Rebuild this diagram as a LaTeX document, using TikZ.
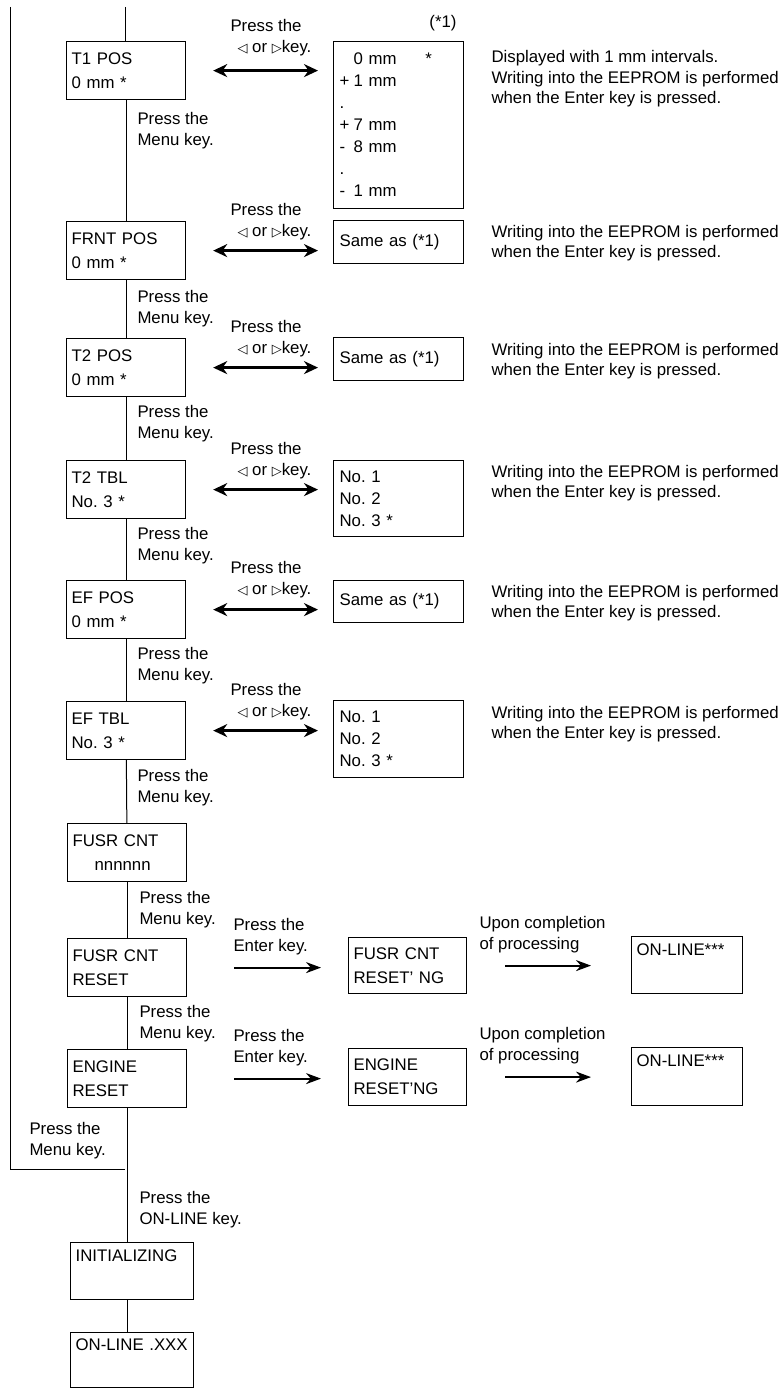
\documentclass[tikz,border=0pt]{standalone}
\usepackage{fontspec}
\setmainfont{Liberation Sans}
\newfontfamily\symfont{DejaVu Sans}
\usepackage{tikz}
\usetikzlibrary{arrows.meta,positioning}
\tikzset{
	defaultstyle/.style={
		x=1pt, y=-1pt,
		line width=1pt,
		font=\fontsize{16.8}{21}\selectfont}}
\newcommand{\lkey}{{\symfont\fontsize{13}{13}\selectfont ◁}}
\newcommand{\rkey}{{\symfont\fontsize{13}{13}\selectfont ▷}}
\newcommand{\sgn}[1]{\makebox[14pt][l]{#1}}
\frenchspacing

\begin{document}
\begin{tikzpicture}[defaultstyle,
	every text node part/.style={align=left},
	menubox/.style={draw, line width=1.2pt, anchor=north west, text width=109pt, inner xsep=5pt, minimum height=58pt, font=\fontsize{16.8}{24}\selectfont},
	valbox/.style={draw, line width=1.2pt, anchor=north west, text width=118pt, inner xsep=6pt, font=\fontsize{16.8}{22}\selectfont},
	lbl/.style={anchor=west, inner sep=0pt},
	note/.style={anchor=west, inner sep=0pt, font=\fontsize{16.8}{20.5}\selectfont},
	both/.style={{Stealth[length=14pt,width=13pt]}-{Stealth[length=14pt,width=13pt]}, line width=2.8pt},
	go/.style={-{Stealth[length=15pt,width=11pt]}, line width=2pt},
	]
	\useasboundingbox (0,0) rectangle (780,1389);

	\coordinate (looptop) at (10,7);
	\coordinate (mtop) at (125,7);
	\coordinate (loopend) at (125,1169);

	\node[menubox] (t1pos) at (66,41) {T1 POS\\0 mm *};
	\node[menubox] (frntpos) at (66,221) {FRNT POS\\0 mm *};
	\node[menubox] (t2pos) at (66,338) {T2 POS\\0 mm *};
	\node[menubox] (t2tbl) at (66,460) {T2 TBL\\No. 3 *};
	\node[menubox] (efpos) at (66,580) {EF POS\\0 mm *};
	\node[menubox] (eftbl) at (66,701) {EF TBL\\No. 3 *};
	\node[menubox] (fusrcnt) at (67,823) {FUSR CNT\\\hspace{22pt}nnnnnn};
	\node[menubox] (fusrrst) at (67,938) {FUSR CNT\\RESET};
	\node[menubox] (engrst) at (67,1049) {ENGINE\\RESET};
	\node[menubox, text width=113pt, minimum height=57pt] (init) at (70,1242) {INITIALIZING\\\strut};
	\node[menubox, text width=113pt, minimum height=55pt] (online) at (70,1332) {ON-LINE .XXX\\\strut};

	\node[valbox, minimum height=167pt] (v1) at (333,41) {\sgn{}0 mm\quad\hspace{12pt}*\\\sgn{+}1 mm\\.\\\sgn{+}7 mm\\\sgn{-}8 mm\\.\\\sgn{-}1 mm};
	\node[valbox, minimum height=43pt] (v2) at (333,220) {Same as (*1)};
	\node[valbox, minimum height=43pt] (v3) at (333,337) {Same as (*1)};
	\node[valbox, minimum height=76pt] (v4) at (333,460) {No. 1\\No. 2\\No. 3 *};
	\node[valbox, minimum height=42pt] (v5) at (333,580) {Same as (*1)};
	\node[valbox, minimum height=77pt] (v6) at (333,700) {No. 1\\No. 2\\No. 3 *};
	\node at (443,23) (ref1) {(*1)};

	\node[menubox, text width=108pt, minimum height=56pt] (fusrrng) at (348,937) {FUSR CNT\\RESET’ NG};
	\node[menubox, text width=108pt, minimum height=57pt] (engrng) at (348,1048) {ENGINE\\RESET’NG};
	\node[menubox, text width=101pt, minimum height=57pt] (on1) at (631,936) {ON-LINE***\\\strut};
	\node[menubox, text width=101pt, minimum height=58pt] (on2) at (631,1047) {ON-LINE***\\\strut};

	\draw (mtop) -- (mtop |- t1pos.north);
	\draw (t1pos) -- (frntpos);
	\draw (frntpos) -- (t2pos);
	\draw (t2pos) -- (t2tbl);
	\draw (t2tbl) -- (efpos);
	\draw (efpos) -- (eftbl);
	\draw (eftbl) -- (fusrcnt);
	\draw (fusrcnt) -- (fusrrst);
	\draw (fusrrst) -- (engrst);
	\draw (engrst.south) -- (engrst.south |- init.north);
	\draw (init.south -| engrst.south) -- (online.north -| engrst.south);
	\draw (looptop) |- (loopend);

	\node[lbl] (m1) at (137,131) {Press the\\Menu key.};
	\node[lbl] (m2) at (137,309) {Press the\\Menu key.};
	\node[lbl] (m3) at (137,424) {Press the\\Menu key.};
	\node[lbl] (m4) at (137,546) {Press the\\Menu key.};
	\node[lbl] (m5) at (137,666) {Press the\\Menu key.};
	\node[lbl] (m6) at (137,788) {Press the\\Menu key.};
	\node[lbl] (m7) at (139,910) {Press the\\Menu key.};
	\node[lbl] (m8) at (139,1024) {Press the\\Menu key.};
	\node[lbl] (m9) at (29,1141) {Press the\\Menu key.};
	\node[lbl] (m10) at (139,1210) {Press the\\ON-LINE key.};

	\foreach \row/\y in {t1pos/38, frntpos/222, t2pos/339, t2tbl/461, efpos/580, eftbl/702}
		\node[lbl] (k\row) at (230,\y) {Press the\\\hspace{7pt}\lkey{} or \rkey key.};

	\draw[both, shorten <=27pt, shorten >=15pt] (t1pos.east) -- (t1pos.east -| v1.west);
	\draw[both, shorten <=27pt, shorten >=15pt] (frntpos.east) -- (frntpos.east -| v2.west);
	\draw[both, shorten <=27pt, shorten >=15pt] (t2pos.east) -- (t2pos.east -| v3.west);
	\draw[both, shorten <=27pt, shorten >=15pt] (t2tbl.east) -- (t2tbl.east -| v4.west);
	\draw[both, shorten <=27pt, shorten >=15pt] (efpos.east) -- (efpos.east -| v5.west);
	\draw[both, shorten <=27pt, shorten >=15pt] (eftbl.east) -- (eftbl.east -| v6.west);

	\node[note] (n1) at (491,79) {Displayed with 1 mm intervals.\\Writing into the EEPROM is performed\\when the Enter key is pressed.};
	\node[note] (n2) at (491,243) {Writing into the EEPROM is performed\\when the Enter key is pressed.};
	\node[note] (n3) at (491,361) {Writing into the EEPROM is performed\\when the Enter key is pressed.};
	\node[note] (n4) at (491,483) {Writing into the EEPROM is performed\\when the Enter key is pressed.};
	\node[note] (n5) at (491,603) {Writing into the EEPROM is performed\\when the Enter key is pressed.};
	\node[note] (n6) at (491,724) {Writing into the EEPROM is performed\\when the Enter key is pressed.};

	\node[lbl] (e1) at (233,937) {Press the\\Enter key.};
	\node[lbl] (e2) at (233,1048) {Press the\\Enter key.};
	\node[lbl] (u1) at (479,935) {Upon completion\\of processing};
	\node[lbl] (u2) at (479,1046) {Upon completion\\of processing};

	\draw[go, shorten <=47pt, shorten >=27pt] (fusrrst.east) -- (fusrrst.east -| fusrrng.west);
	\draw[go, shorten <=47pt, shorten >=27pt] (engrst.east) -- (engrst.east -| engrng.west);
	\draw[go, shorten <=38pt, shorten >=40pt] (fusrrng.east) -- (fusrrng.east -| on1.west);
	\draw[go, shorten <=38pt, shorten >=40pt] (engrng.east) -- (engrng.east -| on2.west);

\end{tikzpicture}
\end{document}
